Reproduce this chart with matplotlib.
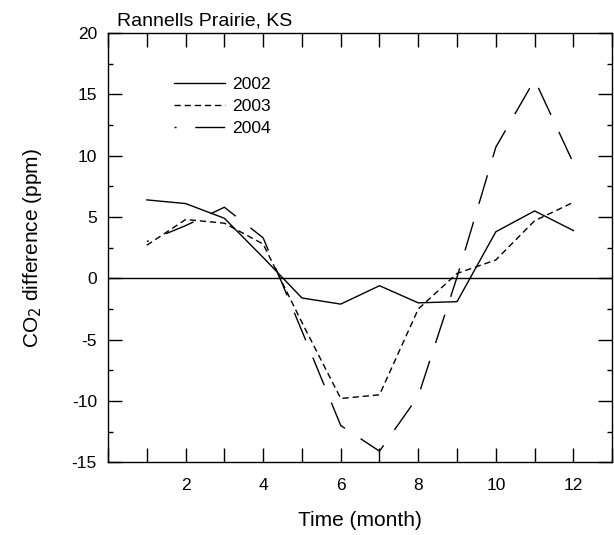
import matplotlib
matplotlib.use('Agg')
import matplotlib.pyplot as plt
from matplotlib.ticker import FixedLocator, MultipleLocator

plt.rcParams['font.family'] = ['Liberation Sans', 'DejaVu Sans']
plt.rcParams['axes.unicode_minus'] = False

# monthly CO2 differences (ppm)
months = [1, 2, 3, 4, 5, 6, 7, 8, 9, 10, 11, 12]
co2_2002 = [6.4, 6.1, 4.9, 1.7, -1.6, -2.1, -0.6, -2.0, -1.9, 3.8, 5.5, 3.9]
co2_2003 = [2.7, 4.8, 4.5, 2.8, -3.6, -9.8, -9.5, -2.5, 0.4, 1.5, 4.7, 6.2]
co2_2004 = [3.0, 4.3, 5.8, 3.3, -4.3, -12.0, -14.1, -9.6, 0.1, 10.7, 16.2, 9.4]
years = ['2002', '2003', '2004']
xtick_labels = [2, 4, 6, 8, 10, 12]

fig = plt.figure(figsize=(6.14, 5.35), dpi=100)
ax = fig.add_axes([0.176, 0.136, 0.821, 0.802])

ax.plot(months, co2_2002, color='black', lw=1.0, label=years[0])
ax.plot(months, co2_2003, color='black', lw=1.0, linestyle=(0, (4.5, 2.8)), label=years[1])
ax.plot(months, co2_2004, color='black', lw=1.0, linestyle=(20, (21.5, 13.5)), label=years[2])
ax.axhline(0, color='black', lw=1.0)

ax.set_xlim(0, 13)
ax.set_ylim(-15, 20)
ax.xaxis.set_major_locator(FixedLocator(xtick_labels))
ax.xaxis.set_minor_locator(MultipleLocator(1))
ax.yaxis.set_major_locator(MultipleLocator(5))
ax.yaxis.set_minor_locator(MultipleLocator(2.5))
ax.tick_params(which='both', direction='in', top=True, right=True, width=1.0, labelsize=12.5, pad=8)
ax.tick_params(axis='x', which='major', pad=11)
ax.tick_params(axis='x', which='both', length=10)
ax.tick_params(axis='y', which='major', length=10)
ax.tick_params(axis='y', which='minor', length=3.6)
for s in ax.spines.values():
    s.set_linewidth(1.0)

ax.set_xlabel('Time (month)', fontsize=15, labelpad=13)
ax.set_ylabel('CO$_2$ difference (ppm)', fontsize=15, labelpad=20)
ax.text(0.018, 1.008, 'Rannells Prairie, KS', transform=ax.transAxes,
        fontsize=14, ha='left', va='bottom')

ax.legend(loc='upper left', bbox_to_anchor=(0.1, 0.935), frameon=False,
          fontsize=12.6, handlelength=2.9, handletextpad=0.4, labelspacing=0.38)

fig.savefig('out.png', dpi=100)
